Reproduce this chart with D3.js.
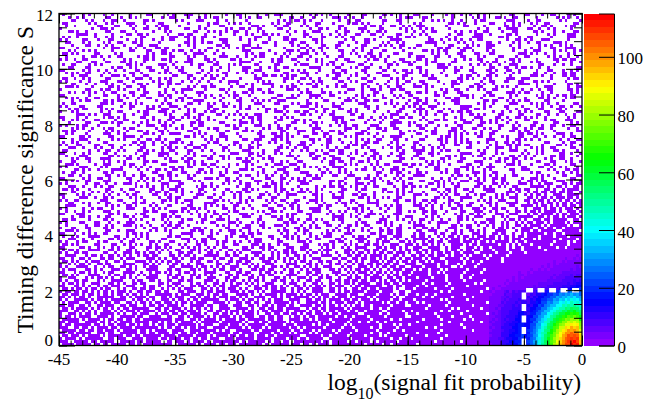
<!DOCTYPE html>
<html>
<head>
<meta charset="utf-8">
<script src="https://cdn.jsdelivr.net/npm/d3@7"></script>
<style>
  html, body { margin: 0; padding: 0; background: #fff; }
  svg { display: block; }
</style>
</head>
<body>
<svg id="chart" width="648" height="401"></svg>
<script>
'use strict';

// axis setup
var xTicks = [-45, -40, -35, -30, -25, -20, -15, -10, -5, 0];
var yTicks = [0, 2, 4, 6, 8, 10, 12];
var zTicks = [0, 20, 40, 60, 80, 100];
var xDomain = [-45, 0];
var yDomain = [0, 12];
var zMax = 115;
var binW = 0.25, binH = 0.1;
var serif = '"Liberation Serif", "Times New Roman", Times, serif';

// occupancy of every bin (1 entry), one row per 0.1 in S, top row first.
// each hex digit = 4 bins (1 unit of log10 prob), groups of 5 digits = 5 units
var binRows = [
  '40a12 08305 1c204 60938 02a41 0c1a4 30852 4a018 c2614',
  '1280c 4a013 08a60 24c01 9103a 48205 c6010 2a34c 08152',
  '0c513 20680 a1c24 08015 6a209 3018c 04a92 16038 4c0a1',
  '6028a 1c430 08162 a4053 08c21 6a104 28035 10c4a 29806',
  '24061 8a25c 40918 03a26 1480c 05a32 9c041 8206a 1342c',
  '8013a 0462c 18a05 34c19 0268a 1c305 4a820 0913c 64a08',
  '1a40c 6208a 03154 c8a02 49c13 0a681 24c0a 5308c 1a246',
  '03c82 19a04 6c210 8a351 0c24a 3190c 4a026 1c834 08a1c',
  '5208a 40c13 9a640 21c86 0a314 c0269 a1048 3c1a2 6041c',
  'a0c46 12893 0a41c 25086 c1a02 4683c 0192a 4c026 a3810',
  '30a14 c6820 1a58c 04321 98a0c 2614a 03c85 2190a 4c3a0',
  '0864a 219c0 4a036 1c820 a4319 0c2a6 18430 a9c12 054a8',
  'c2013 8a46c 0218a 53c04 1a690 28c14 a0365 c180a 2463c',
  '14a82 0c319 64a20 1c083 a520c 49182 06ac3 21408 9c2a5',
  '6a0c1 4029a 13c48 0a625 1c904 a3218 c0a46 18c03 a9214',
  '209a4 c1683 0a21c 4960a 3208c 15a40 9c623 0a184 c0a92',
  'a4c10 2869a 0c341 a2058 c4a13 02c86 1a409 4c21a 0836c',
  '0318c 6a402 9c1a0 3c458 20a61 c4093 a2c18 0564a 2c109',
  '4c2a0 1a839 04c62 a1830 5c2a4 19068 c23a0 4a91c 06248',
  '18602 ca314 a0892 1c4a6 03c18 a6240 183ca 20c65 a4803',
  'c0a49 2318c 604a2 19c30 a8426 0c193 4a08c 61a32 08c4a',
  '2a614 0c82a 3190c 4a206 1c83a 24609 ca108 30c4a 1926c',
  '09c23 a4601 8c2a4 0136a c4098 a21c3 06842 c9a10 3a46c',
  '64a0c 1392a 0a4c8 21c06 9a431 0c82a 41c06 a2839 c0416',
  'a1238 c40a6 24913 c0a84 2160c a3049 8c21a 04c63 1a820',
  '0c48a 21a36 c1082 4a3c0 96a12 0c48a 2609c 1a403 c821a',
  '3a106 98c24 0a6c1 3204a c1896 0a24c 3a810 6c2a4 09c13',
  '8062c a1409 3c21a 06c83 a4201 c9a36 0214c 8a609 24c1a',
  '14a93 0c628 a1c04 9a2c0 1634a 08c21 9a4c6 0183a c240a',
  'c0218 a4c36 10a92 c4018 a3c60 2a914 c0683 a2c14 0a96c',
  '2a4c0 9130a 6c248 a1063 c2a09 4c18a 3206c a4190 86a2c',
  '0961a c2048 a3c10 62a9c 04183 a6c20 9a41c 0362a c1840',
  '4c03a 2a816 0c94a 21c30 a6824 1c0a9 3628c 0a41c 2a906',
  'a1860 4c2a3 9018c a4206 1ca38 06412 a9c03 c2861 0a4c9',
  '16c2a 0839c 4a160 2c9a4 0318c a2406 1c8a3 9a024 c61a0',
  '8a024 c1639 0a2c8 4013a 6c921 a084c 2a316 c0492 a18c3',
  '03a9c 2460a 18c32 a9c04 1a260 c8139 0a4c2 6a183 0c924',
  'c2416 a0c83 2a904 16c2a 8043c 192a6 c408a 1c326 a9014',
  '4a8c1 302a6 c1940 a2c18 6a034 c2918 0a6c3 24a90 c1638',
  '1063a c4a29 06c18 3a420 c9a16 0423c a1809 c6a24 1830a',
  'a2c40 8139a 24c06 a1c93 0284a 61c30 9a246 0c18a 3264c',
  '0a916 2c048 a3160 c829a 41c03 a2698 0c41a 3290c a6412',
  '6c20a 91a34 0c826 1a40c 3926a 0c184 a2c39 0461a c8203',
  '2841c a0693 c2a18 40c6a 2198c 3a406 18c2a 94c03 6a1c8',
  'c1a06 3c820 1a49c 2063a 8c142 a093c 4216a 0c8a3 1924c',
  '09c42 a1368 c02a4 19c6a 034c8 2a619 0c34a 81c26 a4093',
  '4a218 06c93 a4160 c28a3 190c4 a6c28 3014a c926a 0184c',
  'a30c6 2948a 0c612 a4c09 3a281 6c04a 2918c 40a36 c21a9',
  '1c8a2 40c16 93a0c 2681a 4c093 0a12c 64a80 c1394 2a60c',
  '6024c a1a93 0c48a 1c230 94a6c 2180a 3c964 0a21c 8a342',
  'c4a19 0263c 8a041 c6a29 0318c a4c26 19a03 c6281 4a0c9',
  '21c06 a8c34 1269a 04c83 a2c61 09a4c 3086a 2c41a 906c2',
  '0a63c 1940a 2c18a 6a2c0 41938 c2a06 4c1a3 0296c a14c8',
  '8c214 a06c3 9a420 1c84a 3026c 9a41c 02a86 1c34a 0c629',
  '3a09c 2c418 0a6c2 4a139 c8062 a14c3 69a20 c483a 21a0c',
  'a1c28 4a903 6c12a 08c46 2a93c 04a18 c2603 a9c41 864a2',
  '06a43 c1269 a0c84 3a21c 6048a 2c93a 1064c a2819 c0a36',
  '4c81a 208c6 31a94 c0a26 1c34a 8062c 9a14c 3a608 2c14a',
  '1920c a4c36 8a018 2c94a 06a31 c248a 3c016 92a4c 0a863',
  'c0a64 18a92 0c3a6 4218c a9c02 36a14 c0928 4a6c1 3a20c',
  '2a61c 094a3 c2806 a1c49 3a06c 2194a 0c6a3 9a4c2 6b1c9',
  'a04c9 3a21c 6048a 2c96a 1c04a 3a862 c1a94 0c6a3 a5c6b',
  '1c8a6 02a94 c16a0 4c3a8 2096c a4c13 6a28c 1a94c 3e9a6',
  '6a20c 4c193 a0c46 1a82c 94a06 2c18a 40c69 a3c16 c9a5e',
  '0c94a 2316c a4a09 6c12a 3a84c 1096a c42a8 61c3a 5b6d9',
  'c2a14 960ca 21c48 a0693 c1a24 6c80a 3a14c 962a4 ad39e',
  '41c9a 0a826 c3190 a4c62 08a3c 1a94c 206a3 c4a9c 6b5da',
  'a6038 c241a 9c06a 2a14c 63a08 c2419 a6c32 0a9c4 d6ab5',
  '18a4c 26c90 a43c1 680a2 c4916 a3c08 294ac 61a3c 5ad6b',
  '3c20a 9a146 0c2a8 c4319 a06c2 184ac 3a926 c4a19 eb56d',
  'a0962 1c4a8 36a0c 920c4 a3c81 6a24c 0c91a 3a6c4 9d6ba',
  '24a1c 806c3 a9142 c0a68 31c4a 2908c a6c43 1ca26 b5e9d',
  'c3806 a2c19 04a6c 3a182 c60a4 93a1c 04c8a 6a39c 5bd6e',
  '09a4c 3461a c0a92 1c46a 8203c a6149 c2a06 9c4a3 e6b5d',
  '6c21a 0a894 2c63a 40c19 a6a2c 1038a 4c926 a1c5a 9dbe6',
  'a18c4 9c20a 614c3 a2a06 c9184 2c6a0 a93c4 16ca5 6ebd7',
  '204ca 3a916 c802a 4c63a 128c9 a60a4 3c21a c94a6 bd7e9',
  '8c61a 024c9 a3a06 1c284 6ac13 0924c a6a38 c25a9 e6dbf',
  '3a20c 9c14a 06c93 a4816 2c0a9 4a36c 19c4a 6a3c5 dbe7e',
  'c4a98 16a02 3c4a1 96c0a 4a2c3 81a6c 2c59a 3a6c9 7edbf',
  '4a3c1 92a06 c4185 3a0c6 a29c4 5a39c 6d2b5 aed6b 7bdef',
  '1c906 a5218 3a6c4 09c52 a4c1a 3c6a9 3e95d 7bd6e ebf7d',
  'a2c58 4c1a3 0962c a5c18 3a06c 9a5c6 a5b3d d6beb 7fdeb',
  '6a0c3 2a94c 51a28 c3a96 0c5a2 a6d39 d6a9e b7ed5 dfbef',
  'c1a52 8c36a 2a94c 1a6c3 9c2a5 3c6b5 39e5c eb7d6 fbedf',
  '5a3c6 9a254 c6a93 5c2a6 9a5c3 a6d95 b6e5a dbfff fffff',
  'a6c19 3b5a2 6c9a4 a3c56 c5a93 5ab6e 9ab6d e7fff fffff',
  '3c5a6 a96c3 5a3e6 c9a52 6a3c9 b5e9a 6dbae bdfff fffff',
  'c9a36 5c3a9 a6c59 3a6d5 a9c36 6dab5 bae7d 7efff fffff',
  '6a5c9 a3d56 c59a3 6c3a5 5a6c9 a9d6b 6d7be dbfff fffff',
  '95a6c 3c6a5 a9c36 5a9c3 c6a5a 5b6d9 e7dba f7fff fffff',
  'a3c96 6a5c3 3d6a9 c5a6a 6a9c5 9d5b6 7bde5 efbff fffff',
  '5c6a3 9a3c6 c6a59 a36c5 95c6a b6a5d d6ebf 7dfff fffff',
  'c5a96 3c96a 5a3c6 6c5a9 a6c39 5d6ab bed7e fbfff fffff',
  '6a3c5 a95c6 c6a93 5a6c3 c5a96 a6d5b 7efbd dffff fffff',
  '9c56a 6a3c5 a59c6 c6a35 3a6c9 b5e6d ef7bd bffff fffff',
  'a6c53 c59a6 6c3a5 95a6c a6c5b 6dab5 7dfbe fdfff fffff',
  '5a9c6 a6c35 c5a69 6a9c5 c9a6b 5e6db fb7df ebfff fffff',
  'c6a5b 9c5a6 a6d59 c5b6a 6ad5c b7e6d edfbf 7ffff fffff',
  '6b5ac a6d95 5c6ab a9d6c b5e6a 6dbe9 dfbef fefff fffff',
  'b6d5a e9b6c 6e5b9 d6a7c a9e6b 7bde6 7fedf fbfff fffff',
  '6eb5a d6a7e b9d6c 7a5eb d6b9e e7bd6 edbfe fffff fffff',
  'd5a7e 6bd9a e6b5d a9e6b 7d5ae bd7e9 fb7ef dffff fffff',
  'a7d6b e5a9d 6b7e5 d6ab9 e6d7b 6ebdb dfebf 7ffff fffff',
  '5e6bd 9ad6e b5e7a 6d9be a7b5d d7eb6 ebfdf fefff fffff',
  'd9a6e 6e5b7 a7d9c e6b5d 9ed6a b6fde 7efbf dffff fffff',
  '6bd5a b7e6d d5a9e 7a6db e5b7d 7edbf fdfeb fbfff fffff',
  'e6a9d 5d7ab 6e9b5 d6b7a 7ad6e dbe7d bfedf 7ffff fffff',
  '9d6be a6e5d b7a6d 5e9b6 d6eb7 e7dbe efbfd fefff fffff',
  'b5e7a 7d9e6 6bd5e ae6d9 6b7ed bdf7e 7fdef bffff fffff',
  '7ebd6 db7fe e6bd7 b7ed9 ed7bf 7efdb fbefe dffff fffff',
  'de7b5 7bed6 bd7ef e9b7d 7fbde edb7f effdf fbfff fffff',
  'b7ed6 ed6b7 7eb9d d7efb beb7d 7fdeb 7fefd fffff fffff',
  'e6d7b 7bfd6 d6e7b ebd7e d7efb bedf7 fdbfe fffff fffff',
  '7db6e bed79 e7bd6 7dbef 6ebd7 dfbed ffeff dffff fffff',
  'dbe76 7edbd b6f7e de7b6 bd7ef 7edbf efdff fffff fffff',
  '6ebd7 db7ef 7debd b6edf e7dbe fbd7e fdfbf fffff fffff',
  'bd7e6 e7bdb db6e7 7efbd dbe7f 7efdb bfeff fffff fffff',
  'e7dbe 7dbe6 ebd7f d7eb6 7fdbe debf7 ffbfd fffff fffff',
  '7bedb ed7fe 7ebdb bfd7e ed7bf fbedf effff fffff fffff'
];

// counts for x in [-8,0], S in [2,3.5] (base 36 digit per bin), top row first
var aboveCounts = [
  '10121101121011211120112112112122',
  '11012110112101121121121212121222',
  '01121101211211121211212121222232',
  '11210121112112121122122222322323',
  '12110121211212212122223223233333',
  '11212112122121222222323233343434',
  '21121212122221222232323334344454',
  '12121221222122322323233344445455',
  '21212122223223233333344445556565',
  '12221222223323333343445456667677',
  '12122222323233333434454566777889',
  '21222232323334344444556667889a9b',
  '221223233333434445556677789a9bcd',
  '2223223334343445456677789aabcdef',
  '232233343434455556778899acbdfhgj'
];

// counts for x in [-8,0], S in [0,2], top row first (last 20 bins = dashed box)
var nearCounts = [
  [3,2,4,3,3,6,7,4,7,6,8,7, 7,5,9,8,12,10,15,13,18,16,22,19,25,21,28,24,29,23,27,23],
  [2,3,3,4,4,7,6,6,8,7,7,10, 8,6,10,9,13,12,17,15,20,19,25,22,28,26,31,28,33,29,31,25],
  [3,4,3,3,6,6,7,6,7,8,8,10, 6,10,9,12,11,16,15,20,19,25,24,30,28,34,31,36,33,37,32,31],
  [4,3,3,4,6,7,6,7,8,7,10,10, 9,8,12,11,15,14,20,19,25,24,31,29,36,33,40,36,42,37,40,33],
  [3,4,4,3,7,6,7,8,7,10,8,11, 10,8,13,12,17,16,22,21,28,27,34,33,40,37,44,41,46,42,45,37],
  [3,4,3,5,6,7,8,7,10,8,11,13, 8,12,11,16,15,21,20,27,28,34,33,41,40,47,45,50,47,51,46,44],
  [4,3,5,4,7,7,8,8,10,11,11,13, 11,10,14,15,20,19,26,27,33,35,41,42,48,47,54,52,57,53,55,47],
  [4,4,4,5,7,7,8,10,10,11,13,14, 9,13,14,18,19,25,26,33,34,41,42,50,50,57,55,61,58,63,57,54],
  [3,5,4,5,7,8,8,10,11,11,14,14, 12,11,17,17,23,24,31,32,40,42,50,51,58,59,65,63,68,65,67,57],
  [4,4,5,5,8,8,10,10,11,13,14,15, 11,15,16,21,22,29,31,38,40,49,51,59,60,67,66,73,70,74,70,64],
  [4,5,4,6,7,10,8,11,11,14,14,17, 13,14,19,20,27,28,36,38,47,49,58,60,68,69,76,75,80,77,79,66],
  [5,4,5,5,8,8,11,10,13,13,15,17, 12,16,18,24,25,33,35,44,47,56,59,68,70,78,78,84,82,86,81,74],
  [4,5,5,6,8,10,10,13,13,14,17,18, 14,15,21,22,30,32,41,43,53,56,66,69,78,79,87,86,91,88,90,76],
  [5,4,6,5,10,10,11,11,14,14,17,18, 15,16,22,24,31,34,43,46,56,59,70,72,83,84,92,91,97,93,95,80],
  [4,5,5,6,8,11,10,13,13,15,17,20, 14,19,21,27,30,38,42,51,55,65,70,80,83,91,93,99,97,101,96,87],
  [5,5,6,6,10,10,11,13,14,15,18,20, 16,18,23,26,33,37,46,50,60,65,75,80,89,92,99,100,105,102,103,88],
  [4,6,5,6,10,11,11,14,14,17,18,21, 15,20,22,29,32,40,45,55,59,70,75,85,89,98,100,106,104,108,104,92],
  [5,5,6,7,8,11,13,13,15,15,20,20, 17,18,24,27,35,39,48,53,63,69,79,84,94,97,105,106,110,108,109,94],
  [5,6,5,6,10,11,11,14,14,17,18,22, 16,21,23,30,33,42,47,56,62,72,78,88,93,101,104,110,109,113,108,96],
  [4,5,6,6,10,10,13,13,15,15,20,21, 17,19,25,28,36,40,49,55,65,71,81,86,96,100,107,108,113,110,111,95]
];

var nCols = 180;
var overlayCol = 148;     // first bin of x = -8
var aboveRow = 85;        // S = 3.5
var nearRow = 100;        // S = 2

var svg = d3.select('#chart');
svg.append('rect').attr('width', 648).attr('height', 401).attr('fill', '#fff');

var x = d3.scaleLinear().domain(xDomain).range([59, 582]);
var y = d3.scaleLinear().domain(yDomain).range([345.5, 13.5]);
var z = d3.scaleLinear().domain([0, zMax]).range([345.5, 13.5]);

// ROOT "pretty" palette, 50 colours violet -> red
var palette = d3.range(50).map(function (i) {
    return d3.hsl(280 - (i + 1) * 5.6, 1, 0.5).formatHex();
});
function colorOf(v) {
    return palette[Math.min(49, Math.floor(0.01 + v * 50 / zMax))];
}

function binCount(hex, r, c) {
    if (c >= overlayCol && r >= nearRow) return nearCounts[r - nearRow][c - overlayCol];
    if (c >= overlayCol && r >= aboveRow) {
        var ch = aboveCounts[r - aboveRow].charAt(c - overlayCol);
        return ch ? parseInt(ch, 36) : 0;
    }
    var d = hex.charAt(c >> 2);
    if (!d) return 0;
    return (parseInt(d, 16) >> (3 - (c & 3))) & 1;
}

var cells = [];
binRows.forEach(function (row, r) {
    var hex = row.replace(/\s/g, '');
    for (var c = 0; c < nCols; c++) {
        var v = binCount(hex, r, c);
        if (v > 0) {
            cells.push({ x0: xDomain[0] + c * binW, y0: yDomain[1] - (r + 1) * binH, v: v });
        }
    }
});

svg.append('g')
    .attr('shape-rendering', 'crispEdges')
    .selectAll('rect')
    .data(cells)
    .join('rect')
    .attr('x', function (d) { return x(d.x0); })
    .attr('y', function (d) { return y(d.y0 + binH); })
    .attr('width', function (d) { return x(d.x0 + binW) - x(d.x0); })
    .attr('height', function (d) { return y(d.y0) - y(d.y0 + binH); })
    .attr('fill', function (d) { return colorOf(d.v); });

// white dashed box round the signal region
svg.append('path')
    .attr('d', d3.line()([[x(-5), y(0)], [x(-5), y(2)], [x(0), y(2)]]))
    .attr('fill', 'none')
    .attr('stroke', '#fff')
    .attr('stroke-width', 4.5)
    .attr('stroke-dasharray', '7,4.5');

// ticks on all four sides, pointing inwards
var xMinor = d3.range(-45, 0.5, 1);
var yMinor = d3.range(0, 12.01, 0.5);
function tickAxis(axis, vals, size, tx, ty) {
    var g = svg.append('g')
        .attr('transform', 'translate(' + tx + ',' + ty + ')')
        .call(axis.tickValues(vals).tickSize(size).tickFormat(''));
    g.select('.domain').remove();
    g.selectAll('text').remove();
    g.selectAll('line').attr('stroke', '#000').attr('stroke-width', 1);
    return g;
}
tickAxis(d3.axisBottom(x), xTicks, -10, 0, 345.5);
tickAxis(d3.axisBottom(x), xMinor, -5, 0, 345.5);
tickAxis(d3.axisTop(x), xTicks, -10, 0, 13.5);
tickAxis(d3.axisTop(x), xMinor, -5, 0, 13.5);
tickAxis(d3.axisLeft(y), yTicks, -16, 59, 0);
tickAxis(d3.axisLeft(y), yMinor, -8, 59, 0);
tickAxis(d3.axisRight(y), yTicks, -16, 582, 0);
tickAxis(d3.axisRight(y), yMinor, -8, 582, 0);

svg.append('rect')
    .attr('x', 59).attr('y', 13.5)
    .attr('width', 523).attr('height', 332)
    .attr('fill', 'none').attr('stroke', '#000').attr('stroke-width', 1.3);

// tick labels
svg.append('g').selectAll('text')
    .data(xTicks).join('text')
    .attr('x', function (d) { return x(d); })
    .attr('y', 364.5)
    .attr('text-anchor', 'middle')
    .attr('font-family', serif)
    .attr('font-size', 17)
    .text(function (d) { return d; });

svg.append('g').selectAll('text')
    .data(yTicks).join('text')
    .attr('x', 53)
    .attr('y', function (d) { return d === 0 ? y(d) : y(d) + 7.5; })
    .attr('text-anchor', 'end')
    .attr('font-family', serif)
    .attr('font-size', 17)
    .text(function (d) { return d; });

// axis titles
var xt = svg.append('text')
    .attr('x', 581).attr('y', 389.5)
    .attr('text-anchor', 'end')
    .attr('font-family', serif)
    .attr('font-size', 23.5);
xt.append('tspan').text('log');
xt.append('tspan').attr('font-size', 16).attr('dy', 9).text('10');
xt.append('tspan').attr('dy', -9).text('(signal fit probability)');

svg.append('text')
    .attr('transform', 'translate(33,26) rotate(-90)')
    .attr('text-anchor', 'end')
    .attr('font-family', serif)
    .attr('font-size', 23.5)
    .text('Timing difference significance S');

// colour bar
var palBox = svg.append('g').attr('shape-rendering', 'crispEdges');
palBox.selectAll('rect')
    .data(palette).join('rect')
    .attr('x', 584)
    .attr('width', 30)
    .attr('y', function (d, i) { return z((i + 1) * zMax / 50); })
    .attr('height', function (d, i) { return z(i * zMax / 50) - z((i + 1) * zMax / 50); })
    .attr('fill', function (d) { return d; });

var zAxis = svg.append('g')
    .attr('transform', 'translate(614,0)')
    .call(d3.axisLeft(z).tickValues(zTicks).tickSize(15).tickFormat(''));
zAxis.select('.domain').attr('stroke', '#000');
zAxis.selectAll('text').remove();
zAxis.selectAll('line').attr('stroke', '#000');

svg.append('g').selectAll('text')
    .data(zTicks).join('text')
    .attr('x', 617.5)
    .attr('y', function (d) { return z(d) + 7.5; })
    .attr('font-family', serif)
    .attr('font-size', 17)
    .text(function (d) { return d; });
</script>
</body>
</html>
